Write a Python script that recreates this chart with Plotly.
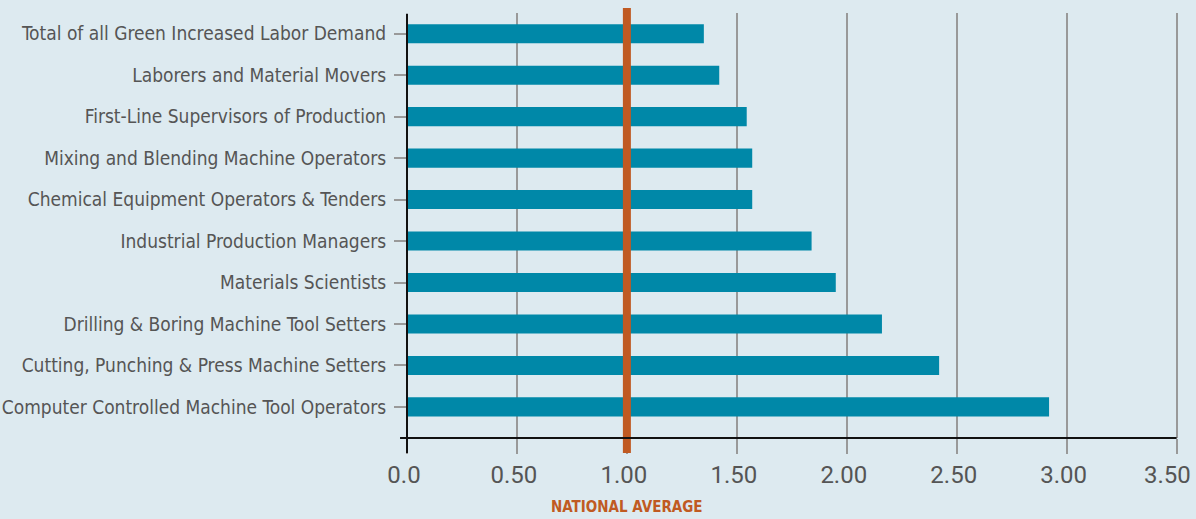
import plotly.graph_objects as go

categories = [
    "Computer Controlled Machine Tool Operators",
    "Cutting, Punching & Press Machine Setters",
    "Drilling & Boring Machine Tool Setters",
    "Materials Scientists",
    "Industrial Production Managers",
    "Chemical Equipment Operators & Tenders",
    "Mixing and Blending Machine Operators",
    "First-Line Supervisors of Production",
    "Laborers and Material Movers",
    "Total of all Green Increased Labor Demand",
]
values = [2.92, 2.42, 2.16, 1.95, 1.84, 1.57, 1.57, 1.545, 1.42, 1.35]
tick_vals = [0, 0.5, 1.0, 1.5, 2.0, 2.5, 3.0, 3.5]
tick_text = ["0.0", "0.50", "1.00", "1.50", "2.00", "2.50", "3.00", "3.50"]
x_max = 3.5
x_range_max = 3.52
national_average = 1.0
national_label = "NATIONAL AVERAGE"

BG = "#ddeaf0"
BAR = "#0088a8"
ORANGE = "#c05a22"
FONT = "DejaVu Sans Condensed, DejaVu Sans, sans-serif"
TICKFONT = dict(size=24, color="#555555", family="Roboto, sans-serif")

fig = go.Figure(go.Bar(
    x=values, y=categories, orientation="h",
    marker=dict(color=BAR, line=dict(width=0)),
    width=0.46,
))

shapes = [
    # national average line
    dict(type="line", xref="x", yref="paper", x0=national_average, x1=national_average,
         y0=-0.0353, y1=1.012, line=dict(color=ORANGE, width=8), layer="above"),
    # x axis line
    dict(type="line", xref="paper", yref="paper", x0=-0.009, x1=x_max / x_range_max, y0=0, y1=0,
         line=dict(color="#111111", width=2), layer="above"),
    # y axis line
    dict(type="line", xref="paper", yref="paper", x0=0, x1=0, y0=-0.0353, y1=0.998,
         line=dict(color="#111111", width=2), layer="above"),
]

# last tick label sits at the window edge: draw it right-aligned at its tick
shown_ticktext = tick_text[:-1] + [""]

fig.update_layout(
    width=1196, height=519,
    margin=dict(l=407, r=15, t=13, b=81),
    paper_bgcolor=BG, plot_bgcolor=BG,
    showlegend=False,
    shapes=shapes,
    font=dict(family=FONT, color="#555555"),
    xaxis=dict(
        range=[0, x_range_max], tickvals=tick_vals, ticktext=shown_ticktext,
        showgrid=True, gridcolor="#999999", gridwidth=2,
        ticks="outside", ticklen=15, tickwidth=2, tickcolor="#999999",
        tickfont=TICKFONT,
        ticklabeloverflow="allow", ticklabelshift=-3,
        zeroline=False, showline=False, fixedrange=True, automargin=False,
    ),
    yaxis=dict(
        categoryorder="array", categoryarray=categories,
        range=[-0.75, 9.5],
        showgrid=False, zeroline=False, showline=False,
        ticks="outside", ticklen=12, tickwidth=2, tickcolor="#999999",
        tickfont=dict(size=19, color="#555555", family=FONT),
        ticklabelstandoff=4, automargin=False, fixedrange=True,
    ),
    annotations=[
        dict(
            x=national_average, xref="x", y=-0.162, yref="paper",
            text="<b>" + national_label + "</b>", showarrow=False,
            font=dict(size=15, color=ORANGE, family=FONT),
            xanchor="center", yanchor="middle",
        ),
        dict(
            x=tick_vals[-1], xref="x", y=-0.086, yref="paper",
            text=tick_text[-1], showarrow=False, font=TICKFONT,
            xanchor="right", yanchor="middle", xshift=16,
        ),
    ],
)

fig.write_html("out.html", config={"displayModeBar": False},
               post_script="document.body.style.margin='0';")
